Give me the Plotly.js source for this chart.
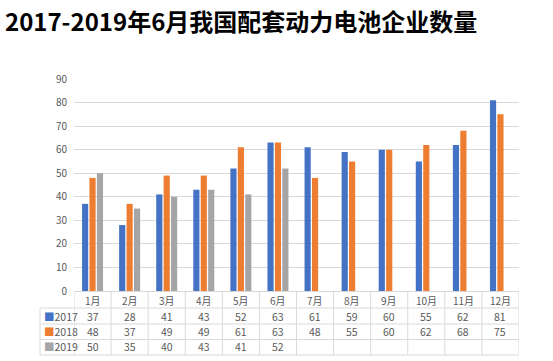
<!DOCTYPE html>
<html>
<head>
<meta charset="utf-8">
<script src="https://cdn.plot.ly/plotly-3.0.1.min.js"></script>
<style>html,body{margin:0;padding:0;background:#fff;}#chart{width:553px;height:361px;}</style>
</head>
<body>
<div id="chart"></div>
<script>
const months = ['1月','2月','3月','4月','5月','6月','7月','8月','9月','10月','11月','12月'];
const seriesNames = ['2017','2018','2019'];
const v2017 = [37,28,41,43,52,63,61,59,60,55,62,81];
const v2018 = [48,37,49,49,61,63,48,55,60,62,68,75];
const v2019 = [50,35,40,43,41,52,null,null,null,null,null,null];
const colors = ['#4472C4','#ED7D31','#A5A5A5'];
const yTicks = [0,10,20,30,40,50,60,70,80,90];

const allSeries = [v2017, v2018, v2019];
const font = 'Noto Sans CJK SC, Noto Sans, sans-serif';
const txtColor = '#595959';
const lineColor = '#D9D9D9';

const traces = allSeries.map((vals, i) => ({
  type: 'bar',
  name: seriesNames[i],
  x: months,
  y: vals,
  marker: {color: colors[i]},
  hoverinfo: 'x+y+name'
}));

// table geometry (paper coords)
const rowText = [-0.118, -0.192, -0.264];
const rowLines = [-0.0802, -0.1557, -0.2288, -0.3019];
const headerY = -0.0425;
const leftPaper = -0.0763;

const shapes = [];
rowLines.forEach(y => shapes.push({type:'line', xref:'paper', yref:'paper', x0:leftPaper, x1:1, y0:y, y1:y, line:{color:lineColor, width:1}}));
for (let k = 0; k <= months.length; k++) {
  shapes.push({type:'line', xref:'x', yref:'paper', x0:k-0.5, x1:k-0.5, y0:0, y1:rowLines[3], line:{color:lineColor, width:1}});
}
shapes.push({type:'line', xref:'paper', yref:'paper', x0:leftPaper, x1:leftPaper, y0:rowLines[0], y1:rowLines[3], line:{color:lineColor, width:1}});

const annotations = [];
months.forEach((m, j) => {
  annotations.push({xref:'x', yref:'paper', x:m, y:headerY, text:m, showarrow:false, font:{family:font, size:10, color:txtColor}, xanchor:'center', yanchor:'middle'});
  allSeries.forEach((vals, i) => {
    if (vals[j] !== null) {
      annotations.push({xref:'x', yref:'paper', x:m, y:rowText[i], text:String(vals[j]), showarrow:false, font:{family:font, size:10.5, color:txtColor}, xanchor:'center', yanchor:'middle'});
    }
  });
});
seriesNames.forEach((n, i) => {
  annotations.push({xref:'paper', yref:'paper', x:leftPaper + 0.004, y:rowText[i], text:'<span style="color:' + colors[i] + '">■</span>' + n, showarrow:false, font:{family:font, size:10.5, color:txtColor}, xanchor:'left', yanchor:'middle'});
});

const layout = {
  width: 553, height: 361,
  margin: {l:74, r:33.5, t:79, b:70},
  paper_bgcolor: '#fff', plot_bgcolor: '#fff',
  title: {text:'2017-2019年6月我国配套动力电池企业数量', xref:'container', yref:'container', x:0.009, xanchor:'left', y:0.938, yanchor:'middle', font:{family:font, size:24, weight:'bold', color:'#000'}},
  showlegend: false,
  barmode: 'group',
  bargap: 0.40,
  bargroupgap: 0.17,
  xaxis: {type:'category', showticklabels:false, showgrid:false, zeroline:false, showline:false, ticks:'', range:[-0.5, 11.5], fixedrange:true},
  yaxis: {range:[0,90], tickvals:yTicks, showgrid:true, gridcolor:lineColor, gridwidth:1, zeroline:true, zerolinecolor:lineColor, zerolinewidth:1, showline:false, ticks:'', ticklabelstandoff:6, tickfont:{family:font, size:10, color:txtColor}, fixedrange:true},
  shapes: shapes,
  annotations: annotations
};

Plotly.newPlot('chart', traces, layout, {displayModeBar:false, staticPlot:true});
</script>
</body>
</html>
